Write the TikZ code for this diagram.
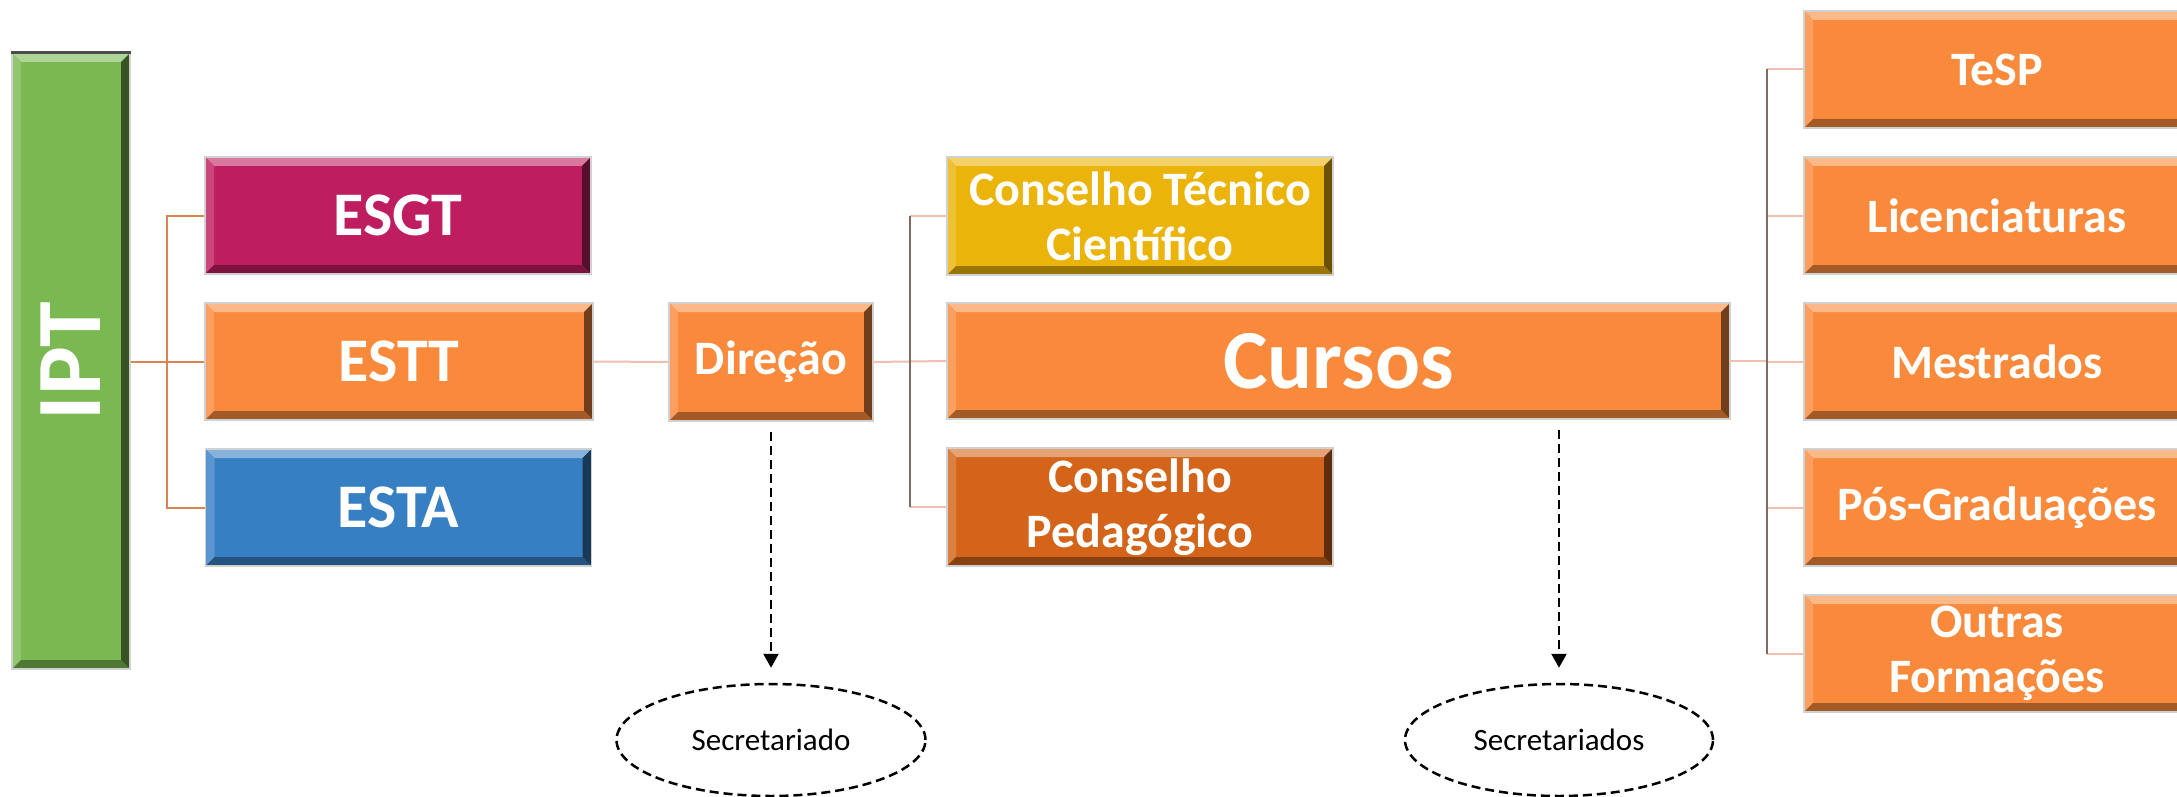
\documentclass[tikz,border=0pt]{standalone}
\usepackage{fontspec}
\setmainfont{Carlito}
\usetikzlibrary{shapes.geometric,arrows.meta,calc}
\definecolor{cgreen}{HTML}{7AB851}
\definecolor{cmag}{HTML}{BE1E5F}
\definecolor{corange}{HTML}{F98A3C}
\definecolor{cblue}{HTML}{377FC3}
\definecolor{cgold}{HTML}{EBB40A}
\definecolor{cdorange}{HTML}{D46419}
\definecolor{lconnc}{HTML}{D98452}
\definecolor{hconnc}{HTML}{F0BFB0}
\definecolor{vconnc}{HTML}{7F6A64}
\def\bv{9pt}
\tikzset{
  box/.style={draw=black!18, line width=1.5pt, inner sep=0pt, minimum height=117pt,
    minimum width=386pt, text=white, font=\bfseries\fontsize{48}{55}\selectfont,
    align=center, fill=#1,
    path picture={
      \fill[#1!60!white] (path picture bounding box.north west) -- (path picture bounding box.north east) -- ([shift={(-\bv,-\bv)}]path picture bounding box.north east) -- ([shift={(\bv,-\bv)}]path picture bounding box.north west) -- cycle;
      \fill[#1!82!white] (path picture bounding box.north west) -- ([shift={(\bv,-\bv)}]path picture bounding box.north west) -- ([shift={(\bv,\bv)}]path picture bounding box.south west) -- (path picture bounding box.south west) -- cycle;
      \fill[#1!45!black] (path picture bounding box.north east) -- (path picture bounding box.south east) -- ([shift={(-\bv,\bv)}]path picture bounding box.south east) -- ([shift={(-\bv,-\bv)}]path picture bounding box.north east) -- cycle;
      \fill[#1!65!black] (path picture bounding box.south west) -- (path picture bounding box.south east) -- ([shift={(-\bv,\bv)}]path picture bounding box.south east) -- ([shift={(\bv,\bv)}]path picture bounding box.south west) -- cycle;
    }},
  lconn/.style={draw=lconnc, line width=2pt},
  hconn/.style={draw=hconnc, line width=2pt},
  vconn/.style={draw=vconnc, line width=2pt},
  secell/.style={ellipse, draw=black, dash pattern=on 9pt off 5pt, line width=2.5pt,
    inner sep=0pt, font=\fontsize{31}{36}\selectfont},
  darrow/.style={draw=black, dash pattern=on 9pt off 5pt, line width=2.5pt,
    -{Triangle[width=15pt,length=14pt]}},
}
\begin{document}
\begin{tikzpicture}[x=1pt,y=-1pt]
\clip (0,0) rectangle (2177,797);
\fill[white] (0,0) rectangle (2177,797);

% left column
\node[box=cgreen, minimum width=118pt, minimum height=616pt,
      font=\bfseries\fontsize{92}{100}\selectfont] (ipt) at (71,361) {\rotatebox{90}{IPT}};
\draw[black!70, line width=3pt] (ipt.north west) -- (ipt.north east);
\node[box=cmag] (esgt) at (398,215.5) {\fontsize{62}{70}\selectfont ESGT};
\node[box=corange, minimum width=388pt] (estt) at (399,361.5) {\fontsize{62}{70}\selectfont ESTT};
\node[box=cblue] (esta) at (398.5,507.5) {\fontsize{62}{70}\selectfont ESTA};

% middle
\node[box=corange, minimum width=204pt, minimum height=118pt] (direcao) at (771,362) {Direção};
\node[box=cgold, minimum height=118pt] (ctc) at (1140,216) {Conselho Técnico\\Científico};
\node[box=corange, minimum width=783pt, minimum height=116pt] (cursos) at (1338.5,361) {\fontsize{84}{90}\selectfont Cursos};
\node[box=cdorange, minimum height=118pt] (cp) at (1140,507) {Conselho\\Pedagógico};

% right column
\node[box=corange] (tesp) at (1997,69.5) {TeSP};
\node[box=corange] (lic) at (1997,215.5) {Licenciaturas};
\node[box=corange] (mest) at (1997,361.5) {Mestrados};
\node[box=corange] (pos) at (1997,507.5) {Pós-Graduações};
\node[box=corange] (outras) at (1997,653.5) {Outras\\Formações};

% secretariados
\node[secell, minimum width=309pt, minimum height=112pt] (sec1) at (771,740) {Secretariado};
\node[secell, minimum width=308pt, minimum height=112pt] (sec2) at (1559,740) {Secretariados};

% connectors left
\coordinate (lvx) at (167,362);
\draw[lconn] (ipt.east |- estt.west) -- (estt.west);
\draw[lconn] (esgt.west) -- (esgt.west -| lvx) -- (esta.west -| lvx) -- (esta.west);

% connectors middle
\draw[hconn] (estt.east) -- (direcao.west);
\draw[hconn] (direcao.east) -- (cursos.west);
\coordinate (mvx) at (910,362);
\draw[hconn] (ctc.west -| mvx) -- (ctc.west);
\draw[hconn] (cp.west -| mvx) -- (cp.west);
\draw[vconn] (ctc.west -| mvx) -- (cp.west -| mvx);

% connectors right
\coordinate (rvx) at (1767,361);
\draw[hconn] (cursos.east) -- (cursos.east -| rvx);
\foreach \n in {tesp,lic,mest,pos,outras}{
  \draw[hconn] (\n.west -| rvx) -- (\n.west);
}
\draw[vconn] (tesp.west -| rvx) -- (outras.west -| rvx);

% dashed arrows
\draw[darrow] ([yshift=-10pt]direcao.south) -- ([yshift=15pt]sec1.north);
\draw[darrow] ([yshift=-10pt]sec2.north |- cursos.south) -- ([yshift=15pt]sec2.north);
\end{tikzpicture}
\end{document}
